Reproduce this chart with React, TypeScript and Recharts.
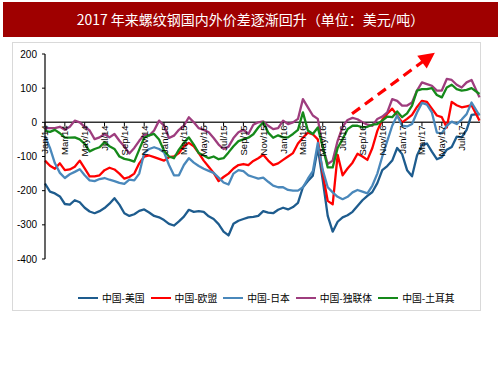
import React from 'react';
import { LineChart, Line, XAxis, YAxis, ReferenceLine, Legend } from 'recharts';

// month offsets from Jan 2014
const months = [
  0, 0.5, 1, 1.5, 2, 2.5, 3, 3.5, 4, 4.5, 5, 5.5, 6, 6.5, 7, 7.5, 8, 8.5, 9, 9.5,
  10, 10.5, 11, 11.5, 12, 12.5, 13, 13.5, 14, 14.5, 15, 15.5, 16, 16.5, 17, 17.5, 18, 18.5, 19, 19.5,
  20, 20.5, 21, 21.5, 22, 22.5, 23, 23.5, 24, 24.5, 25, 25.5, 26, 26.5, 27, 27.5, 28, 28.5, 29, 29.5,
  30, 30.5, 31, 31.5, 32, 32.5, 33, 33.5, 34, 34.5, 35, 35.5, 36, 36.5, 37, 37.5, 38, 38.5, 39, 39.5,
  40, 40.5, 41, 41.5, 42, 42.5, 43, 43.8,
];

const usa = [
  -179, -203, -208, -217, -239, -241, -228, -234, -250, -261, -266, -260, -251, -238, -222, -241, -266, -274, -269, -259,
  -255, -264, -274, -278, -286, -297, -302, -290, -276, -256, -262, -260, -262, -275, -283, -298, -320, -331, -297, -288,
  -283, -278, -277, -274, -260, -264, -266, -256, -250, -255, -248, -236, -190, -172, -156, -75, -170, -274, -320, -291,
  -278, -272, -262, -245, -228, -215, -204, -178, -140, -128, -112, -75, -93, -140, -158, -97, -66, -62, -86, -108,
  -102, -80, -72, -42, -44, -22, 22, 25,
];

const eu = [
  -112, -127, -136, -120, -140, -138, -130, -112, -135, -158, -158, -155, -140, -133, -138, -150, -165, -160, -150, -120,
  -100, -97, -102, -107, -112, -102, -100, -90, -70, -60, -70, -90, -112, -130, -148, -172, -160, -150, -135, -125,
  -122, -125, -113, -105, -95, -112, -125, -120, -110, -100, -90, -62, -45, -30, -35, -50, -150, -230, -240, -95,
  -155, -135, -118, -92, -100, -110, -75, -25, 8, 25, 40, 20, 0, 10, 22, 45, 63, 60, 40, 20,
  15, -15, 60, 50, 44, 47, 50, 5,
];

const japan = [
  -40, -75, -120, -148, -163, -152, -145, -137, -155, -170, -172, -166, -163, -168, -172, -177, -180, -168, -170, -150,
  -90, -78, -73, -78, -88, -125, -155, -155, -125, -105, -118, -128, -136, -142, -148, -162, -176, -182, -150, -140,
  -143, -155, -160, -165, -162, -174, -185, -190, -190, -198, -200, -200, -190, -165, -143, -60, -140, -190, -205, -218,
  -225, -218, -205, -198, -203, -208, -185, -150, -100, -55, -10, 20, -10, -12, -5, 29, 57, 52, 29, -30,
  -32, -10, 2, -5, 8, 24, 58, 20,
];

const cis = [
  -17, -17, -17, -13, -22, -13, 5, 0, -13, -24, -49, -44, -34, -44, -34, -54, -71, -91, -75, -54,
  -36, -39, -24, 5, -10, -46, -39, -22, -10, 15, 0, -17, -22, -29, -46, -65, -78, -71, -46, -29,
  -22, -34, -7, 0, 3, -10, -20, -17, 5, -5, 0, 10, 68, 44, 20, 10, -73, -122, -112, -54,
  -13, 7, 13, 9, 0, -7, -10, 10, 17, 29, 68, 63, 49, 49, 58, 93, 117, 112, 107, 93,
  93, 127, 124, 110, 102, 117, 124, 73,
];

const turkey = [
  -25, -28, -22, -32, -45, -45, -44, -50, -63, -85, -78, -73, -58, -70, -78, -100, -107, -110, -115, -80,
  -45, -38, -34, -50, -83, -100, -105, -80, -60, -44, -65, -90, -97, -105, -100, -108, -105, -88, -70, -55,
  -50, -45, -35, -15, 0, -30, -45, -38, -44, -44, -34, -22, 29, -24, -34, -15, -73, -132, -132, -75,
  -49, -20, -10, -10, -15, -13, -7, -5, 5, 17, 15, 32, 15, 26, 49, 93, 97, 97, 100, 80,
  73, 102, 110, 97, 93, 95, 100, 83,
];

const tickValues = [0, 2, 4, 6, 8, 10, 12, 14, 16, 18, 20, 22, 24, 26, 28, 30, 32, 34, 36, 38, 40, 42];
const tickLabels = [
  'Jan/14', 'Mar/14', 'May/14', 'Jul/14', 'Sep/14', 'Nov/14',
  'Jan/15', 'Mar/15', 'May/15', 'Jul/15', 'Sep/15', 'Nov/15',
  'Jan/16', 'Mar/16', 'May/16', 'Jul/16', 'Sep/16', 'Nov/16',
  'Jan/17', 'Mar/17', 'May/17', 'Jul/17',
];
const yTicks = [-400, -300, -200, -100, 0, 100, 200];

const seriesNames = ['中国-美国', '中国-欧盟', '中国-日本', '中国-独联体', '中国-土耳其'];
const seriesKeys = ['usa', 'eu', 'japan', 'cis', 'turkey'];
const seriesColors = ['#1E5C8E', '#FF0000', '#4A88BB', '#9E3D7E', '#15891A'];

const arrowFrom = { x: 30.95, y: 25 };
const arrowTo = { x: 39.3, y: 204 };

const data = months.map((m, i) => ({
  m,
  usa: usa[i],
  eu: eu[i],
  japan: japan[i],
  cis: cis[i],
  turkey: turkey[i],
}));

const W = 503;
const H = 378;
const PLOT_TOP = 54;
const PLOT_BOTTOM = 259;
const Y_MIN = -400;
const Y_MAX = 200;
const ZERO_Y = PLOT_TOP + ((Y_MAX - 0) / (Y_MAX - Y_MIN)) * (PLOT_BOTTOM - PLOT_TOP);
const FONT = '"Liberation Sans", Arial, sans-serif';
const CJK = '"Noto Sans CJK SC", "Noto Sans", sans-serif';

const XTick = (props: any) => {
  const { x, payload } = props;
  const idx = tickValues.indexOf(payload.value);
  const label = idx >= 0 ? tickLabels[idx] : '';
  const ty = ZERO_Y + 3;
  return (
    <g>
      <line x1={x} x2={x} y1={ZERO_Y} y2={ZERO_Y + 4} stroke="#000" strokeWidth={1} />
      <text
        x={x}
        y={ty}
        transform={`rotate(-90 ${x} ${ty})`}
        textAnchor="end"
        dominantBaseline="central"
        fontSize={9.5}
        fontFamily={FONT}
        fill="#000"
      >
        {label}
      </text>
    </g>
  );
};

const ArrowShape = (p: any) => {
  const { x1, y1, x2, y2 } = p;
  const ang = Math.atan2(y2 - y1, x2 - x1);
  const L = 16;
  const Wd = 8;
  const bx = x2 - L * Math.cos(ang);
  const by = y2 - L * Math.sin(ang);
  const nx = -Math.sin(ang);
  const ny = Math.cos(ang);
  const pts = `${x2},${y2} ${bx + Wd * nx},${by + Wd * ny} ${bx - Wd * nx},${by - Wd * ny}`;
  return (
    <g>
      <line x1={x1} y1={y1} x2={bx + 2 * Math.cos(ang)} y2={by + 2 * Math.sin(ang)} stroke="#FF0000" strokeWidth={3.2} strokeDasharray="10 6" />
      <polygon points={pts} fill="#FF0000" />
    </g>
  );
};

const LegendContent = () => (
  <div style={{ display: 'flex', alignItems: 'center', height: 16, fontFamily: CJK, fontSize: 9.8, color: '#000', whiteSpace: 'nowrap' }}>
    {seriesNames.map((n, i) => (
      <div key={n} style={{ display: 'flex', alignItems: 'center', marginRight: 6 }}>
        <div style={{ width: 20, height: 2.5, background: seriesColors[i], marginRight: 4 }} />
        <span>{n}</span>
      </div>
    ))}
  </div>
);

export default function App() {
  return (
    <div style={{ position: 'fixed', left: 0, top: 0, width: W, height: H, background: '#fff', overflow: 'hidden' }}>
      <div
        style={{
          position: 'absolute',
          left: 3,
          top: 2,
          width: 495,
          height: 35,
          background: '#9F0000',
          color: '#fff',
          fontFamily: CJK,
          fontSize: 14,
          lineHeight: '35px',
          textAlign: 'center',
        }}
      >
        2017 年来螺纹钢国内外价差逐渐回升（单位：美元/吨）
      </div>
      <div
        style={{
          position: 'absolute',
          left: 12,
          top: 42,
          width: 469,
          height: 269,
          border: '1px solid #D9D9D9',
          boxSizing: 'border-box',
        }}
      />
      <div style={{ position: 'absolute', left: 0, top: 0 }}>
        <LineChart width={W} height={H} data={data} margin={{ top: PLOT_TOP, right: 23, left: 0, bottom: 72 }}>
          <XAxis
            dataKey="m"
            type="number"
            domain={[0, 43.85]}
            ticks={tickValues}
            interval={0}
            height={31}
            axisLine={false}
            tickLine={false}
            tick={<XTick />}
          />
          <YAxis
            type="number"
            domain={[Y_MIN, Y_MAX]}
            ticks={yTicks}
            interval={0}
            width={45}
            tickSize={3}
            tickMargin={5}
            axisLine={{ stroke: '#000', strokeWidth: 1.2 }}
            tickLine={{ stroke: '#000' }}
            tick={{ fontSize: 10, fill: '#000', fontFamily: FONT }}
          />
          <ReferenceLine y={0} stroke="#333" strokeWidth={1.5} />
          {seriesKeys.map((k, i) => (
            <Line
              key={k}
              type="linear"
              dataKey={k}
              name={seriesNames[i]}
              stroke={seriesColors[i]}
              strokeWidth={2.3}
              strokeLinejoin="round"
              dot={false}
              isAnimationActive={false}
            />
          ))}
          <ReferenceLine
            segment={[arrowFrom, arrowTo]}
            ifOverflow="visible"
            stroke="#FF0000"
            shape={ArrowShape}
          />
          <Legend verticalAlign="bottom" height={16} content={<LegendContent />} wrapperStyle={{ left: 78, width: 400 }} />
        </LineChart>
      </div>
    </div>
  );
}
